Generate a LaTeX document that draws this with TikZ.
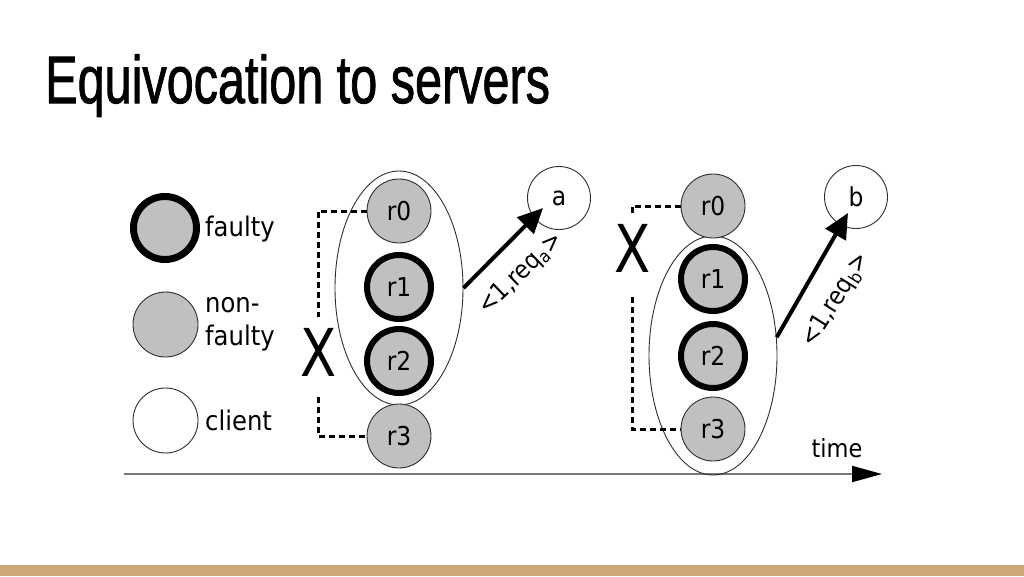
\documentclass[tikz,border=0pt]{standalone}
\usepackage{graphicx}
\usepackage{fontspec}
\setmainfont{DejaVu Sans Condensed}
\newfontfamily\titlefont[FakeBold=1.5]{Liberation Sans}
\newfontfamily\crossfont{DejaVu Sans}
\usetikzlibrary{arrows.meta,shapes.geometric}
\definecolor{nodegray}{RGB}{192,192,192}
\definecolor{barcol}{RGB}{207,166,120}
\definecolor{edgegray}{RGB}{45,45,45}
\definecolor{axisgray}{RGB}{120,120,120}
\tikzset{
 srv/.style={circle, draw=edgegray, line width=0.9pt, fill=nodegray, minimum size=64pt, inner sep=0pt, font=\fontsize{26}{30}\selectfont},
 bad/.style={srv, draw=black, line width=6pt},
 cli/.style={circle, draw=edgegray, line width=0.9pt, fill=white, minimum size=63pt, inner sep=0pt, font=\fontsize{26}{30}\selectfont},
 grp/.style={ellipse, draw=edgegray, line width=0.9pt, minimum width=128pt, minimum height=234pt, inner sep=0pt},
 lbl/.style={font=\fontsize{27}{33}\selectfont, anchor=west, inner sep=0pt, align=left},
 dsh/.style={line width=3pt, dash pattern=on 6pt off 4pt},
 msg/.style={line width=4pt, -{Triangle[length=25pt,width=23pt]}},
 msglbl/.style={font=\fontsize{25}{30}\selectfont, inner sep=0pt},
 cross/.style={font=\crossfont\fontsize{66}{70}\selectfont, xscale=0.8, inner sep=0pt}
}
\begin{document}
\begin{tikzpicture}[x=1pt,y=-1pt]
\useasboundingbox (0,0) rectangle (1024,576);
\fill[barcol] (0,565) rectangle (1024,576);

% title
\node[anchor=base west, inner sep=0pt] (title) at (45,103)
  {\titlefont\fontsize{67}{72}\selectfont\scalebox{0.725}[1]{Equivocation to servers}};

% legend
\node[bad, line width=7pt, minimum size=63pt] (lf) at (165,228) {};
\node[srv, minimum size=65pt] (ln) at (165.5,324.5) {};
\node[cli, minimum size=65pt] (lc) at (165.5,420.5) {};
\node[lbl] (tf) at (205,229) {faulty};
\node[lbl] (tn) at (205,324) {non-\\faulty};
\node[lbl] (tc) at (205,420) {client};

% time axis
\coordinate (t0) at (124,474);
\coordinate (t1) at (882,474);
\draw[axisgray, line width=2pt, -{Triangle[length=30pt,width=16pt,color=black]}] (t0) -- (t1);
\node[font=\fontsize{25}{30}\selectfont, inner sep=0pt] (time) at (837,448) {time};

% left group
\node[grp] (ellL) at (399,288) {};
\node[srv] (r0L) at (399,211) {r0};
\node[bad] (r1L) at (399,287) {r1};
\node[bad] (r2L) at (399,361) {r2};
\node[srv] (r3L) at (399,436) {r3};
\node[cli] (a) at (559,198) {a};
\coordinate (ta) at (543,208);
\draw[msg] (ellL.east) -- (ta);
\node[msglbl, rotate=44] (la) at (521,274) {<1,req\textsubscript{a}>};
\coordinate (dl1) at (318,211);
\coordinate (dl2) at (318,317);
\coordinate (dl3) at (318,397);
\coordinate (dl4) at (318,436);
\draw[dsh] (r0L.west) -- (dl1) -- (dl2);
\draw[dsh] (dl3) -- (dl4) -- (r3L.west);
\node[cross] (xL) at (319,352) {X};

% right group
\node[grp, minimum height=239pt] (ellR) at (713,355.5) {};
\node[srv] (r0R) at (713,206) {r0};
\node[bad] (r1R) at (713,279) {r1};
\node[bad] (r2R) at (713,356) {r2};
\node[srv] (r3R) at (713,429) {r3};
\node[cli] (b) at (856,197) {b};
\coordinate (tb) at (848,213);
\draw[msg] (ellR.16) -- (tb);
\node[msglbl, rotate=58] (lb) at (836,300) {<1,req\textsubscript{b}>};
\coordinate (dr1) at (632,206);
\coordinate (dr2) at (632,213);
\coordinate (dr3) at (632,297);
\coordinate (dr4) at (632,429);
\draw[dsh] (r0R.west) -- (dr1) -- (dr2);
\draw[dsh] (dr3) -- (dr4) -- (r3R.west);
\node[cross] (xR) at (633,248) {X};
\end{tikzpicture}
\end{document}
